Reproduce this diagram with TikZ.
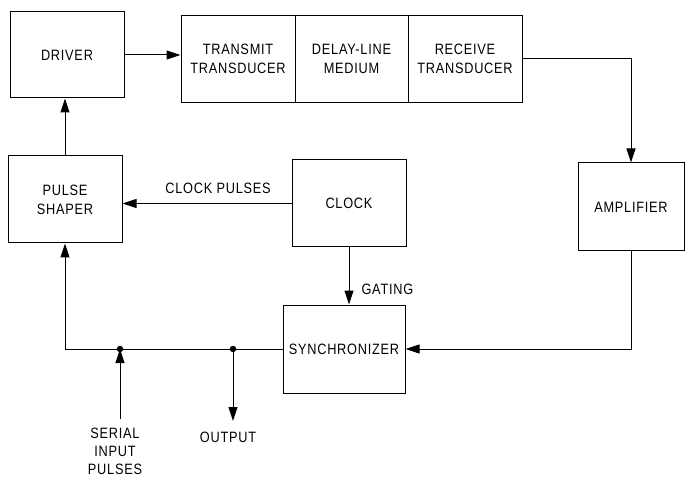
\documentclass[tikz,border=0pt]{standalone}
\usepackage{fontspec}
\setmainfont{Liberation Sans}[FakeStretch=0.85,LetterSpace=5]
\usetikzlibrary{arrows.meta}
\begin{document}
\begin{tikzpicture}[x=1pt,y=-1pt,
  every node/.style={font=\fontsize{15}{19}\selectfont, align=center},
  blk/.style={draw, line width=1pt, inner sep=0pt},
  arr/.style={line width=1pt, -{Triangle[length=14pt,width=9pt]}},
  dot/.style={circle, fill, inner sep=0pt, minimum size=6.5pt}]
\useasboundingbox (0,0) rectangle (685,478);
\node[blk, minimum width=114pt, minimum height=86pt] (drv) at (67,55) {DRIVER};
\node[blk, minimum width=114pt, minimum height=87pt] (tx) at (238,59) {TRANSMIT\\TRANSDUCER};
\node[blk, minimum width=113pt, minimum height=87pt] (dl) at (351.5,59) {DELAY-LINE\\MEDIUM};
\node[blk, minimum width=114pt, minimum height=87pt] (rx) at (465,59) {RECEIVE\\TRANSDUCER};
\node[blk, minimum width=106pt, minimum height=88pt] (amp) at (631,207) {AMPLIFIER};
\node[blk, minimum width=114pt, minimum height=87pt] (ps) at (65,199.5) {PULSE\\SHAPER};
\node[blk, minimum width=114pt, minimum height=87pt] (clk) at (349,203.5) {CLOCK};
\node[blk, minimum width=122pt, minimum height=88pt] (syn) at (344,349) {SYNCHRONIZER};
\node[anchor=south] (cpl) at (218,197) {CLOCK PULSES};
\node[anchor=west] (gat) at (358,289) {GATING};
\node[font=\fontsize{15}{18}\selectfont] (ser) at (115,451) {SERIAL\\INPUT\\PULSES};
\node (out) at (228,437) {OUTPUT};
\coordinate (j1) at (120,349);
\coordinate (j2) at (233,349);
\coordinate (sin) at (120,419);
\coordinate (sout) at (233,421);
\draw[arr] (drv.east) -- (drv.east -| tx.west);
\draw[arr] (rx.east) -| (amp.north);
\draw[arr] (amp.south) |- (syn.east);
\draw[arr] (clk.west) -- (clk.west -| ps.east);
\draw[arr] (clk.south) -- (clk.south |- syn.north);
\draw[arr] (ps.north) -- (ps.north |- drv.south);
\draw[arr] (syn.west) -| (ps.south);
\draw[arr] (sin) -- (j1);
\draw[arr] (j2) -- (sout);
\node[dot] (d1) at (j1) {};
\node[dot] (d2) at (j2) {};
\end{tikzpicture}
\end{document}
